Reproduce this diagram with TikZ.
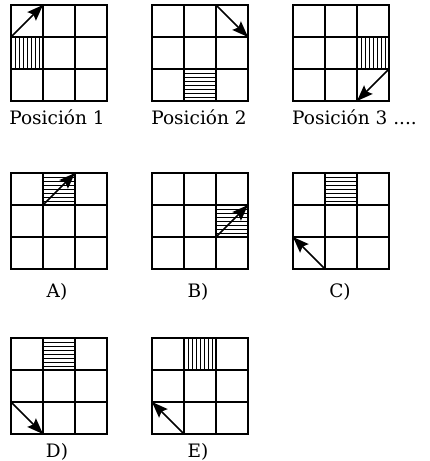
\documentclass[tikz,border=0pt]{standalone}
\usepackage{fontspec}
\setmainfont{DejaVu Serif}
\usetikzlibrary{arrows.meta}
\tikzset{
  frame/.style={line width=2.1pt},
  innerline/.style={line width=1.5pt},
  hatchline/.style={line width=1.0pt},
  arr/.style={line width=1.6pt, -{Stealth[length=16pt,width=12pt,inset=2.5pt]}},
  lbl/.style={font=\fontsize{18.5}{20}\selectfont, inner sep=0pt, anchor=base},
  gridbox/.pic={
    \draw[innerline] (32,0)--(32,96) (64,0)--(64,96) (0,32)--(96,32) (0,64)--(96,64);
    \draw[frame] (0,0) rectangle (96,96);
  }
}
\newcommand\hhat[2]{\foreach \k in {4,8,...,28}{\draw[hatchline] ({#1*32},{#2*32+\k}) -- ({#1*32+32},{#2*32+\k});}}
\newcommand\vhat[2]{\foreach \k in {4,8,...,28}{\draw[hatchline] ({#1*32+\k},{#2*32}) -- ({#1*32+\k},{#2*32+32});}}
\begin{document}
\begin{tikzpicture}[x=1pt,y=-1pt]
\useasboundingbox (0,0) rectangle (429,461);
% Posicion 1
\begin{scope}[shift={(11,5)}]
  \vhat{0}{1}
  \pic{gridbox};
  \draw[arr] (0,32) -- (32,0);
\end{scope}
% Posicion 2
\begin{scope}[shift={(152,5)}]
  \hhat{1}{2}
  \pic{gridbox};
  \draw[arr] (64,0) -- (96,32);
\end{scope}
% Posicion 3
\begin{scope}[shift={(293,5)}]
  \vhat{2}{1}
  \pic{gridbox};
  \draw[arr] (96,64) -- (64,96);
\end{scope}
% A
\begin{scope}[shift={(11,173)}]
  \hhat{1}{0}
  \pic{gridbox};
  \draw[arr] (32,32) -- (64,0);
\end{scope}
% B
\begin{scope}[shift={(152,173)}]
  \hhat{2}{1}
  \pic{gridbox};
  \draw[arr] (64,64) -- (96,32);
\end{scope}
% C
\begin{scope}[shift={(293,173)}]
  \hhat{1}{0}
  \pic{gridbox};
  \draw[arr] (32,96) -- (0,64);
\end{scope}
% D
\begin{scope}[shift={(11,338)}]
  \hhat{1}{0}
  \pic{gridbox};
  \draw[arr] (0,64) -- (32,96);
\end{scope}
% E
\begin{scope}[shift={(152,338)}]
  \vhat{1}{0}
  \pic{gridbox};
  \draw[arr] (32,96) -- (0,64);
\end{scope}
% labels
\node[lbl] (l1) at (57,124) {Posición 1};
\node[lbl] (l2) at (199,124) {Posición 2};
\node[lbl, anchor=base west] (l3) at (292,124) {Posición 3 ....};
\node[lbl] (la) at (57,297) {A)};
\node[lbl] (lb) at (198,297) {B)};
\node[lbl] (lc) at (340,297) {C)};
\node[lbl] (ld) at (57,457) {D)};
\node[lbl] (le) at (198,457) {E)};
\end{tikzpicture}
\end{document}
